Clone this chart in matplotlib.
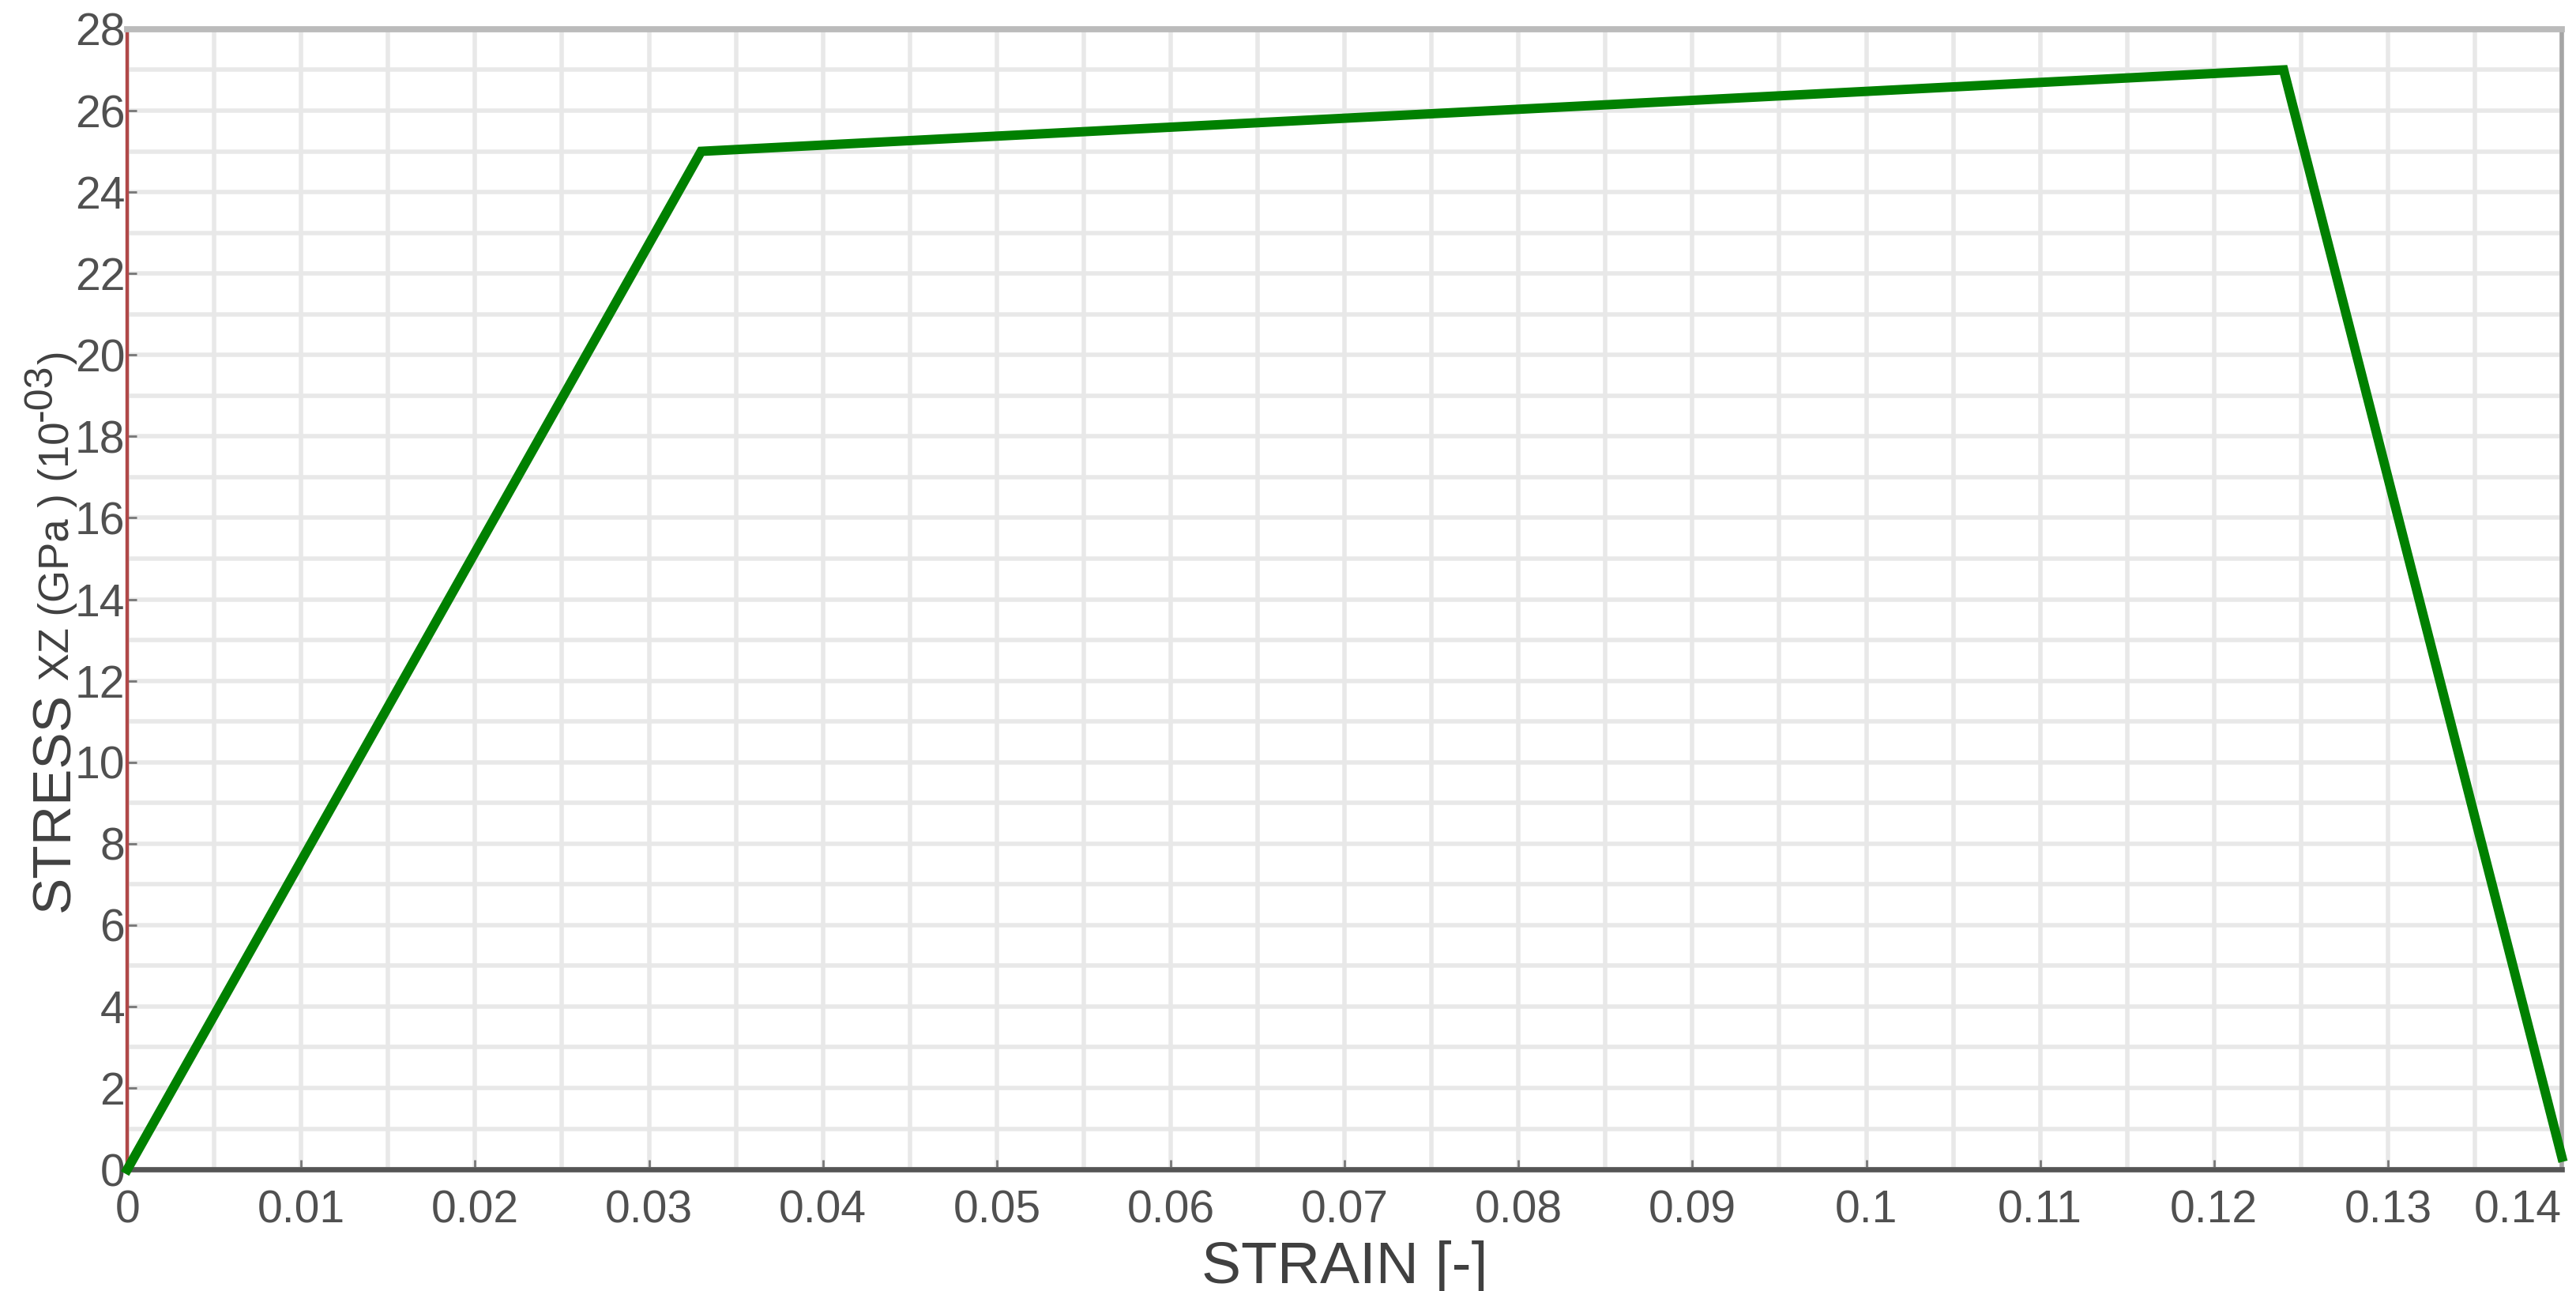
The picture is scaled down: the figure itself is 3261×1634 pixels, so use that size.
import matplotlib
matplotlib.use("Agg")
import matplotlib.pyplot as plt
import numpy as np

# stress-strain curve (stress in 10^-3 GPa)
strain = [0.0, 0.033, 0.124, 0.14]
stress = [0.0, 25.0, 27.0, 0.3]

x_ticks = np.round(np.arange(0, 0.141, 0.01), 2)
x_tick_labels = ["0", "0.01", "0.02", "0.03", "0.04", "0.05", "0.06", "0.07",
                 "0.08", "0.09", "0.1", "0.11", "0.12", "0.13", "0.14"]
y_ticks = list(range(0, 29, 2))

plt.rcParams['font.family'] = ['Liberation Sans', 'DejaVu Sans']

fig = plt.figure(figsize=(16.31, 8.17), dpi=200)
ax = fig.add_axes([0.0494, 0.0942, 0.9448, 0.8832])

ax.plot(strain, stress, color='#008000', lw=4.3, solid_joinstyle='miter', zorder=3, clip_on=False)

ax.set_xlim(0, 0.14)
ax.set_ylim(0, 28)
ax.set_xticks(x_ticks)
ax.set_xticklabels(x_tick_labels)
ax.set_xticks(np.arange(0, 0.141, 0.005), minor=True)
ax.set_yticks(y_ticks)
ax.set_yticks(range(0, 29), minor=True)

ax.grid(which='both', color='#e8e8e8', lw=2.0, zorder=0)
ax.set_axisbelow(True)

ax.tick_params(which='major', direction='in', length=4.3, width=1.0, color='#777777',
               labelsize=20.5, labelcolor='#505050')
ax.tick_params(axis='y', which='major', pad=1)
ax.tick_params(axis='x', which='major', pad=9)
ax.tick_params(which='minor', length=0)
ax.get_xticklabels()[-1].set_horizontalalignment('right')
ax.get_xticklabels()[-1].set_x(0.14)

ax.spines['left'].set_color('#b04848')
ax.spines['left'].set_linewidth(1.6)
ax.spines['top'].set_color('#bbbbbb')
ax.spines['top'].set_linewidth(2.8)
ax.spines['right'].set_color('#a5a5a5')
ax.spines['right'].set_linewidth(2.0)
ax.spines['bottom'].set_color('#555555')
ax.spines['bottom'].set_linewidth(2.4)

ax.set_xlabel("STRAIN [-]", fontsize=27, color='#404040', labelpad=4)

# y label built from pieces of different size
fig.canvas.draw()
renderer = fig.canvas.get_renderer()
pieces = [("STRESS", 25, 0), (" XZ (GPa ) (10", 19, 0), ("-03", 18, 22), (")", 19, 0)]
base_x = 87 / 3262
y_px = 1634 - 1154
for txt, size, raise_px in pieces:
    t = fig.text(base_x - raise_px / 3262, y_px / 1634, txt, rotation=90,
                 rotation_mode='anchor', ha='left', va='baseline',
                 fontsize=size, color='#404040')
    bb = t.get_window_extent(renderer)
    y_px = bb.y1

fig.savefig("out.png", dpi=200)
